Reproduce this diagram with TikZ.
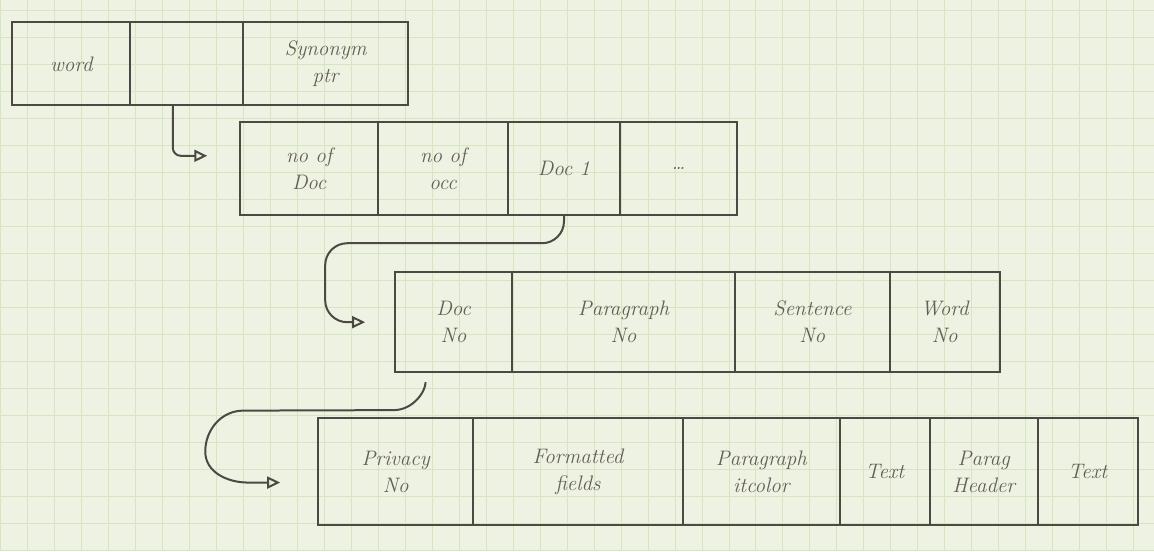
\documentclass[tikz,border=0pt]{standalone}
\usetikzlibrary{arrows.meta,calc}
\definecolor{paper}{HTML}{EEF2E2}
\definecolor{gridline}{HTML}{D6E4C0}
\definecolor{ink}{HTML}{4A4943}
\definecolor{pen}{HTML}{625F55}
\tikzset{
  cell/.style={draw=ink, line width=2.2pt, anchor=north west, inner sep=0pt,
    outer sep=0pt, align=center, text=pen,
    font=\fontsize{21}{27}\selectfont\itshape},
  link/.style={draw=ink, line width=2pt,
    -{Triangle[open,length=13pt,width=12pt,line width=2pt]}},
}
\begin{document}
\begin{tikzpicture}[x=1pt,y=-1pt]
% squared paper
\fill[paper] (0,0) rectangle (1154,551);
\foreach \gx in {0,27,...,1154} \draw[gridline, line width=0.8pt] (\gx,0) -- (\gx,551);
\foreach \gy in {10,37,...,551} \draw[gridline, line width=0.8pt] (0,\gy) -- (1154,\gy);
\useasboundingbox (0,0) rectangle (1154,551);

% index record
\node[cell, minimum width=118, minimum height=83] (w1) at (12,22) {word};
\node[cell, minimum width=113, minimum height=83] (w2) at (w1.north east) {};
\node[cell, minimum width=165, minimum height=83] (w3) at (w2.north east) {Synonym\\ptr};

% document list
\node[cell, minimum width=138, minimum height=93] (d1) at (240,122) {no of\\Doc};
\node[cell, minimum width=130, minimum height=93] (d2) at (d1.north east) {no of\\occ};
\node[cell, minimum width=112, minimum height=93] (d3) at (d2.north east) {Doc 1};
\node[cell, minimum width=117, minimum height=93] (d4) at (d3.north east) {\dots};

% occurrence record
\node[cell, minimum width=117, minimum height=100] (s1) at (395,272) {Doc\\No};
\node[cell, minimum width=223, minimum height=100] (s2) at (s1.north east) {Paragraph\\No};
\node[cell, minimum width=155, minimum height=100] (s3) at (s2.north east) {Sentence\\No};
\node[cell, minimum width=110, minimum height=100] (s4) at (s3.north east) {Word\\No};

% paragraph record
\node[cell, minimum width=155, minimum height=107] (p1) at (318,418) {Privacy\\No};
\node[cell, minimum width=210, minimum height=107] (p2) at (p1.north east) {Formatted\\fields};
\node[cell, minimum width=157, minimum height=107] (p3) at (p2.north east) {Paragraph\\itcolor};
\node[cell, minimum width=90,  minimum height=107] (p4) at (p3.north east) {Text};
\node[cell, minimum width=108, minimum height=107] (p5) at (p4.north east) {Parag\\Header};
\node[cell, minimum width=100, minimum height=107] (p6) at (p5.north east) {Text};

% pointers
\draw[link, rounded corners=8pt, shorten >=33pt]
  ($(w2.south)+(-14,0)$) |- ($(d1.west)+(0,-13)$);
\draw[link, rounded corners=22pt, shorten >=30pt]
  (d3.south) -- ++(0,28) -| ($(s1.west)+(-70,0)$) -- (s1.west);
\draw[link, shorten <=10pt, shorten >=38pt]
  ($(s1.south)+(-28,0)$) to[out=-90,in=0] ($(s1.south)+(-60,38)$)
  -- ($(p1.west)+(-75,-61)$) to[out=180,in=90] ($(p1.west)+(-113,-20)$)
  to[out=-90,in=180] ($(p1.west)+(-70,11)$) -- ($(p1.west)+(0,11)$);
\end{tikzpicture}
\end{document}
